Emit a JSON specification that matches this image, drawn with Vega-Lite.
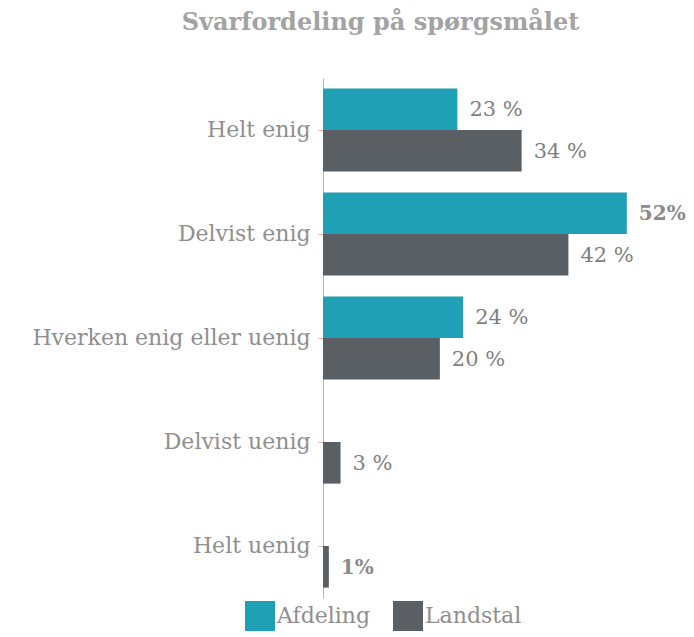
{
  "$schema": "https://vega.github.io/schema/vega-lite/v6.json",
  "width": 371,
  "height": 520,
  "autosize": {"type": "none"},
  "padding": {"left": 323, "top": 78, "right": 0, "bottom": 39},
  "title": {
    "text": "Svarfordeling på spørgsmålet",
    "font": "DejaVu Serif",
    "fontSize": 24,
    "fontWeight": "bold",
    "color": "#a3a3a3",
    "anchor": "middle",
    "dx": -128,
    "offset": 43
  },
  "data": {
    "values": [
      {"category": "Helt enig", "series": "Afdeling", "value": 23, "label": "23 %", "bold": 0},
      {"category": "Helt enig", "series": "Landstal", "value": 34, "label": "34 %", "bold": 0},
      {"category": "Delvist enig", "series": "Afdeling", "value": 52, "label": "52%", "bold": 1},
      {"category": "Delvist enig", "series": "Landstal", "value": 42, "label": "42 %", "bold": 0},
      {"category": "Hverken enig eller uenig", "series": "Afdeling", "value": 24, "label": "24 %", "bold": 0},
      {"category": "Hverken enig eller uenig", "series": "Landstal", "value": 20, "label": "20 %", "bold": 0},
      {"category": "Delvist uenig", "series": "Afdeling", "value": 0, "label": "", "bold": 0},
      {"category": "Delvist uenig", "series": "Landstal", "value": 3, "label": "3 %", "bold": 0},
      {"category": "Helt uenig", "series": "Afdeling", "value": 0, "label": "", "bold": 0},
      {"category": "Helt uenig", "series": "Landstal", "value": 1, "label": "1%", "bold": 1}
    ]
  },
  "encoding": {
    "y": {
      "field": "category",
      "type": "nominal",
      "sort": ["Helt enig", "Delvist enig", "Hverken enig eller uenig", "Delvist uenig", "Helt uenig"],
      "scale": {"paddingInner": 0.2, "paddingOuter": 0.1},
      "axis": {
        "title": null,
        "grid": false,
        "domainColor": "#b5b5b5",
        "domainWidth": 1,
        "tickColor": "#d9b8b8",
        "tickSize": 5,
        "labelFont": "DejaVu Serif",
        "labelFontSize": 22,
        "labelColor": "#8f8f8f",
        "labelPadding": 8,
        "labelLimit": 0
      }
    },
    "yOffset": {"field": "series", "type": "nominal", "sort": ["Afdeling", "Landstal"]},
    "x": {"field": "value", "type": "quantitative", "scale": {"domain": [0, 63.5]}, "axis": null}
  },
  "layer": [
    {
      "mark": {"type": "bar"},
      "encoding": {
        "color": {
          "field": "series",
          "type": "nominal",
          "scale": {"domain": ["Afdeling", "Landstal"], "range": ["#20a0b4", "#5a5f64"]},
          "legend": {
            "title": null,
            "orient": "none",
            "legendX": -78,
            "legendY": 523,
            "direction": "horizontal",
            "symbolType": "square",
            "symbolSize": 900,
            "symbolStrokeWidth": 0,
            "labelFont": "DejaVu Serif",
            "labelFontSize": 22,
            "labelColor": "#8f8f8f",
            "labelOffset": 2,
            "columnPadding": 22
          }
        }
      }
    },
    {
      "transform": [{"filter": "datum.bold == 0"}],
      "mark": {"type": "text", "align": "left", "baseline": "middle", "dx": 12, "dy": 1, "font": "DejaVu Serif", "fontSize": 21, "color": "#7f7f7f"},
      "encoding": {"text": {"field": "label"}}
    },
    {
      "transform": [{"filter": "datum.bold == 1"}],
      "mark": {"type": "text", "align": "left", "baseline": "middle", "dx": 12, "dy": 1, "font": "DejaVu Serif", "fontSize": 20, "fontWeight": "bold", "color": "#8a8a8a"},
      "encoding": {"text": {"field": "label"}}
    }
  ],
  "config": {"view": {"stroke": null}}
}
